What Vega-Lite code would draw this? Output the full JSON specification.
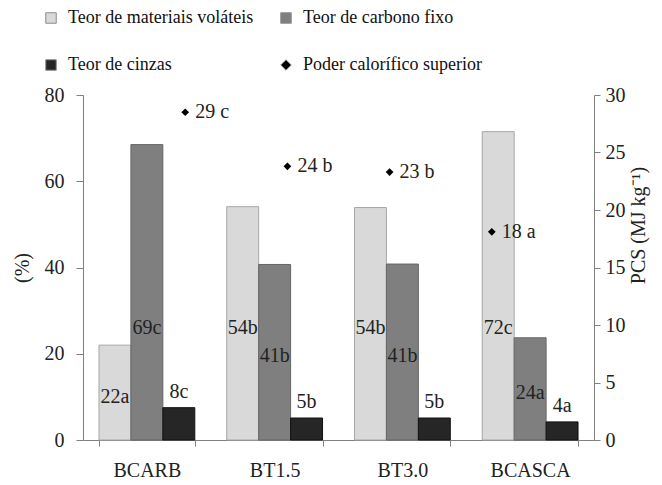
{
  "$schema": "https://vega.github.io/schema/vega-lite/v6.json",
  "width": 511,
  "height": 345,
  "autosize": {"type": "none"},
  "padding": {"left": 83, "top": 95, "right": 68, "bottom": 45},
  "config": {
    "view": {"stroke": null},
    "font": "Liberation Serif",
    "axis": {
      "labelFont": "Liberation Serif",
      "titleFont": "Liberation Serif",
      "labelFontSize": 20,
      "titleFontSize": 20,
      "titleFontWeight": "normal",
      "domainColor": "#808080",
      "tickColor": "#808080",
      "labelColor": "#222222",
      "titleColor": "#222222",
      "grid": false,
      "tickSize": 7
    },
    "legend": {
      "labelFont": "Liberation Serif",
      "labelFontSize": 18,
      "labelColor": "#111111",
      "labelLimit": 400
    }
  },
  "datasets": {
    "bars": [
      {"cat": "BCARB", "series": "Teor de materiais voláteis", "value": 22.0, "label": "22a"},
      {"cat": "BCARB", "series": "Teor de carbono fixo", "value": 68.5, "label": "69c"},
      {"cat": "BCARB", "series": "Teor de cinzas", "value": 7.5, "label": "8c"},
      {"cat": "BT1.5", "series": "Teor de materiais voláteis", "value": 54.1, "label": "54b"},
      {"cat": "BT1.5", "series": "Teor de carbono fixo", "value": 40.7, "label": "41b"},
      {"cat": "BT1.5", "series": "Teor de cinzas", "value": 5.1, "label": "5b"},
      {"cat": "BT3.0", "series": "Teor de materiais voláteis", "value": 53.9, "label": "54b"},
      {"cat": "BT3.0", "series": "Teor de carbono fixo", "value": 40.8, "label": "41b"},
      {"cat": "BT3.0", "series": "Teor de cinzas", "value": 5.1, "label": "5b"},
      {"cat": "BCASCA", "series": "Teor de materiais voláteis", "value": 71.5, "label": "72c"},
      {"cat": "BCASCA", "series": "Teor de carbono fixo", "value": 23.7, "label": "24a"},
      {"cat": "BCASCA", "series": "Teor de cinzas", "value": 4.2, "label": "4a"}
    ],
    "pcs": [
      {"cat": "BCARB", "series": "Poder calorífico superior", "pcs": 28.5, "label": "29 c"},
      {"cat": "BT1.5", "series": "Poder calorífico superior", "pcs": 23.8, "label": "24 b"},
      {"cat": "BT3.0", "series": "Poder calorífico superior", "pcs": 23.3, "label": "23 b"},
      {"cat": "BCASCA", "series": "Poder calorífico superior", "pcs": 18.1, "label": "18 a"}
    ]
  },
  "layer": [
    {
      "data": {"name": "bars"},
      "layer": [
        {
          "mark": {"type": "bar", "strokeWidth": 1},
          "encoding": {
            "x": {
              "field": "cat", "type": "nominal",
              "sort": ["BCARB", "BT1.5", "BT3.0", "BCASCA"],
              "scale": {"paddingInner": 0.25, "paddingOuter": 0.125},
              "axis": {"orient": "bottom", "title": null, "labelAngle": 0, "tickBand": "extent", "tickSize": 6, "labelPadding": 14}
            },
            "xOffset": {
              "field": "series", "type": "nominal",
              "scale": {"domain": ["Teor de materiais voláteis", "Teor de carbono fixo", "Teor de cinzas"], "paddingInner": 0, "paddingOuter": 0}
            },
            "y": {
              "field": "value", "type": "quantitative",
              "scale": {"domain": [0, 80]},
              "axis": {"orient": "left", "values": [0, 20, 40, 60, 80], "labelPadding": 12, "title": "(%)", "titlePadding": 12}
            },
            "color": {
              "field": "series", "type": "nominal",
              "scale": {
                "domain": ["Teor de materiais voláteis", "Teor de carbono fixo", "Teor de cinzas", "Poder calorífico superior"],
                "range": ["#d9d9d9", "#7f7f7f", "#262626", "#000000"]
              },
              "legend": {
                "title": null, "orient": "none", "legendX": -41, "legendY": -86, "direction": "horizontal",
                "columns": 2, "columnPadding": 23, "rowPadding": 29,
                "symbolSize": 110, "symbolStrokeColor": "#8c8c8c", "symbolStrokeWidth": 1, "labelOffset": 8
              }
            },
            "stroke": {
              "field": "series", "type": "nominal",
              "scale": {
                "domain": ["Teor de materiais voláteis", "Teor de carbono fixo", "Teor de cinzas"],
                "range": ["#a6a6a6", "#666666", "#111111"]
              },
              "legend": null
            }
          }
        },
        {
          "transform": [{"filter": "datum.series !== 'Teor de cinzas'"}],
          "mark": {"type": "text", "baseline": "middle", "align": "center", "dy": 4, "fontSize": 20, "font": "Liberation Serif", "color": "#222222"},
          "encoding": {
            "x": {"field": "cat", "type": "nominal", "sort": ["BCARB", "BT1.5", "BT3.0", "BCASCA"], "scale": {"paddingInner": 0.25, "paddingOuter": 0.125}},
            "xOffset": {"field": "series", "type": "nominal", "scale": {"domain": ["Teor de materiais voláteis", "Teor de carbono fixo", "Teor de cinzas"], "paddingInner": 0, "paddingOuter": 0}},
            "y": {"field": "value", "type": "quantitative", "scale": {"domain": [0, 54], "range": [345, 228.56], "clamp": true, "zero": true, "nice": false}, "axis": null},
            "text": {"field": "label"}
          }
        },
        {
          "transform": [{"filter": "datum.series === 'Teor de cinzas'"}],
          "mark": {"type": "text", "baseline": "middle", "align": "center", "dy": -16, "fontSize": 20, "font": "Liberation Serif", "color": "#222222"},
          "encoding": {
            "x": {"field": "cat", "type": "nominal", "sort": ["BCARB", "BT1.5", "BT3.0", "BCASCA"], "scale": {"paddingInner": 0.25, "paddingOuter": 0.125}},
            "xOffset": {"field": "series", "type": "nominal", "scale": {"domain": ["Teor de materiais voláteis", "Teor de carbono fixo", "Teor de cinzas"], "paddingInner": 0, "paddingOuter": 0}},
            "y": {"field": "value", "type": "quantitative", "scale": {"domain": [0, 80]}, "axis": null},
            "text": {"field": "label"}
          }
        }
      ],
      "resolve": {"scale": {"y": "independent"}}
    },
    {
      "data": {"name": "pcs"},
      "layer": [
        {
          "mark": {"type": "point", "filled": true, "size": 60, "opacity": 1},
          "encoding": {
            "x": {"field": "cat", "type": "nominal", "sort": ["BCARB", "BT1.5", "BT3.0", "BCASCA"], "scale": {"type": "point", "padding": 1}, "axis": null},
            "y": {
              "field": "pcs", "type": "quantitative",
              "scale": {"domain": [0, 30]},
              "axis": {"orient": "right", "values": [0, 5, 10, 15, 20, 25, 30], "tickSize": 6, "labelPadding": 5, "title": "PCS (MJ kg⁻¹)", "titleAngle": 270, "titleX": 44, "titleY": 130, "titleAlign": "center", "titleBaseline": "middle"}
            },
            "color": {
              "field": "series", "type": "nominal",
              "scale": {
                "domain": ["Teor de materiais voláteis", "Teor de carbono fixo", "Teor de cinzas", "Poder calorífico superior"],
                "range": ["#d9d9d9", "#7f7f7f", "#262626", "#000000"]
              },
              "legend": {
                "title": null, "orient": "none", "legendX": -41, "legendY": -86, "direction": "horizontal",
                "columns": 2, "columnPadding": 23, "rowPadding": 29,
                "symbolSize": 110, "symbolStrokeColor": "#8c8c8c", "symbolStrokeWidth": 1, "labelOffset": 8
              }
            },
            "shape": {
              "field": "series", "type": "nominal",
              "scale": {
                "domain": ["Teor de materiais voláteis", "Teor de carbono fixo", "Teor de cinzas", "Poder calorífico superior"],
                "range": ["square", "square", "square", "diamond"]
              },
              "legend": {
                "title": null, "orient": "none", "legendX": -41, "legendY": -86, "direction": "horizontal",
                "columns": 2, "columnPadding": 23, "rowPadding": 29,
                "symbolSize": 110, "symbolStrokeColor": "#8c8c8c", "symbolStrokeWidth": 1, "labelOffset": 8
              }
            }
          }
        },
        {
          "mark": {"type": "text", "align": "left", "baseline": "middle", "dx": 10, "fontSize": 20, "font": "Liberation Serif", "color": "#222222"},
          "encoding": {
            "x": {"field": "cat", "type": "nominal", "sort": ["BCARB", "BT1.5", "BT3.0", "BCASCA"], "scale": {"type": "point", "padding": 1}, "axis": null},
            "y": {"field": "pcs", "type": "quantitative", "scale": {"domain": [0, 30]}},
            "text": {"field": "label"}
          }
        }
      ]
    }
  ],
  "resolve": {"scale": {"x": "independent", "y": "independent"}}
}
